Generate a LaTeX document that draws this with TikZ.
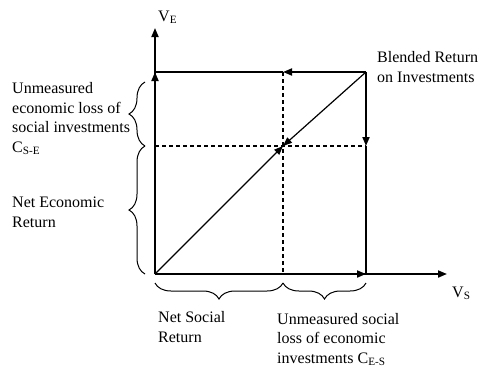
\documentclass[tikz,border=0pt]{standalone}
\usepackage{fontspec}
\setmainfont{Liberation Serif}
\usetikzlibrary{arrows.meta,decorations.pathreplacing}

\begin{document}
\begin{tikzpicture}[
  x=1pt, y=-1pt,
  txt/.style={font=\fontsize{16}{19.5}\selectfont, align=left, anchor=base west, inner sep=0pt},
  axisline/.style={line width=1.8pt, -{Triangle[length=9pt, width=7pt]}},
  edgeline/.style={line width=1.8pt},
  diagline/.style={line width=1.2pt},
  tip/.style={-{Triangle[length=9pt, width=7pt]}},
  guide/.style={line width=1.5pt, dash pattern=on 4pt off 3pt},
  bracket/.style={decorate, decoration={brace, amplitude=16pt}, line width=1pt}
]
\useasboundingbox (0,0) rectangle (481,370);

% corners of the square and the split point
\coordinate (O) at (155,274);
\coordinate (A) at (155,72);
\coordinate (C) at (366,72);
\coordinate (B) at (366,274);
\coordinate (M) at (283,146);
\coordinate (Mt) at (283,72);
\coordinate (Mb) at (283,274);
\coordinate (Ml) at (155,146);
\coordinate (Mr) at (366,146);
\coordinate (Ye) at (155,28);
\coordinate (Xe) at (447,274);

% axes
\draw[axisline] (O) -- (Ye);
\draw[axisline] (O) -- (Xe);
\draw[axisline] (O) -- (A);
\draw[axisline] (O) -- (B);

% square edges
\draw[edgeline, tip] (C) -- (Mt);
\draw[edgeline] (Mt) -- (A);
\draw[edgeline, tip] (C) -- (Mr);
\draw[edgeline] (Mr) -- (B);

% diagonal
\draw[diagline, tip] (O) -- (M);
\draw[diagline, tip] (C) -- (M);

% dashed guides
\draw[guide] (Mt) -- (Mb);
\draw[guide] (Ml) -- (Mr);

% braces
\coordinate (bl1) at (145,274);
\coordinate (bl2) at (145,146);
\coordinate (bl3) at (145,82);
\draw[bracket] (bl1) -- (bl2);
\draw[bracket] (bl2) -- (bl3);
\coordinate (bb1) at (155,283);
\coordinate (bb2) at (283,283);
\coordinate (bb3) at (366,283);
\draw[bracket] (bb2) -- (bb1);
\draw[bracket] (bb3) -- (bb2);

% labels (placed by the baseline of their last line)
\node[txt] (lblVE) at (158,21) {V\textsubscript{E}};
\node[txt] (lblVS) at (452,297) {V\textsubscript{S}};
\node[txt] (lblBlend) at (377,82) {Blended Return\\on Investments};
\node[txt] (lblLossSE) at (12,152) {Unmeasured\\economic loss of\\social investments\\C\textsubscript{S-E}};
\node[txt] (lblNetEcon) at (12,227) {Net Economic\\Return};
\node[txt] (lblNetSoc) at (158,342) {Net Social\\Return};
\node[txt] (lblLossES) at (277,363) {Unmeasured social\\loss of economic\\investments C\textsubscript{E-S}};
\end{tikzpicture}
\end{document}
